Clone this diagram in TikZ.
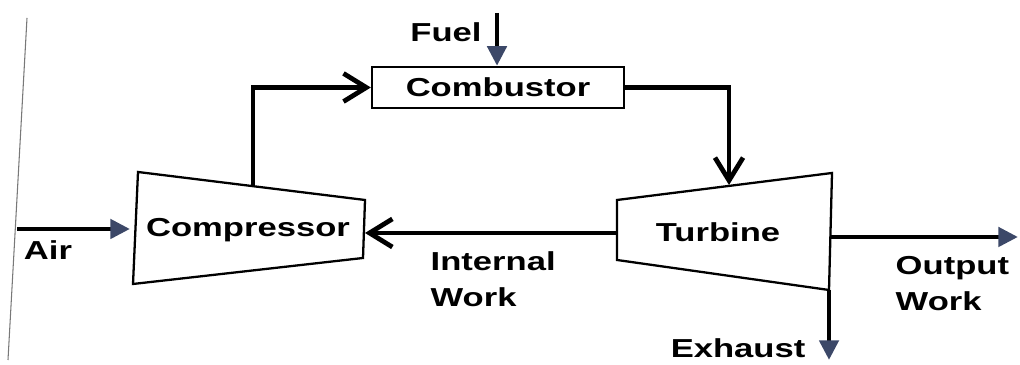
\documentclass[tikz,border=0pt]{standalone}
\usepackage{fontspec}
\setmainfont{Liberation Sans}[FakeStretch=1.33]
\usepackage{tikz}
\usetikzlibrary{arrows.meta}
\definecolor{tipblue}{RGB}{60, 72, 104}
\definecolor{scangray}{RGB}{120, 120, 120}

\tikzset{
  flow/.style={line width=1.35pt},
  unit/.style={draw, line width=0.65pt},
  lbl/.style={font=\fontsize{7.4}{8.6}\selectfont\bfseries, inner sep=0pt},
  filltip/.style={-{Triangle[length=5.6pt, width=5.4pt, fill=tipblue, color=tipblue]}},
  opentip/.style={-{Straight Barb[length=6.5pt, width=8pt]}}
}

\begin{document}
\begin{tikzpicture}

  \useasboundingbox (0, 0) rectangle (10.2, 3.65);

  % Page edge from the scan
  \draw[scangray, line width=0.3pt] (0.27, 3.47) -- (0.08, 0.05);

  % Compressor
  \draw[unit] (1.38, 1.93) -- (3.65, 1.65) -- (3.63, 1.07) -- (1.33, 0.81) -- cycle;
  \node[lbl] (comp) at (2.48, 1.35) {Compressor};
  \coordinate (comp-in) at (1.30, 1.36);
  \coordinate (comp-top) at (2.53, 1.79);
  \coordinate (comp-right) at (3.65, 1.32);

  % Combustor
  \node[unit, minimum width=2.52cm, minimum height=0.41cm, inner sep=0pt] (comb) at (4.98, 2.775) {};
  \node[lbl] (comb-lbl) at (4.98, 2.78) {Combustor};

  % Turbine
  \draw[unit] (6.17, 1.65) -- (8.32, 1.92) -- (8.29, 0.75) -- (6.17, 1.05) -- cycle;
  \node[lbl] (turb) at (7.18, 1.33) {Turbine};
  \coordinate (turb-top) at (7.29, 1.80);
  \coordinate (turb-left) at (6.17, 1.32);
  \coordinate (turb-right) at (8.31, 1.28);
  \coordinate (turb-low) at (8.29, 0.75);

  % Free ends
  \coordinate (air-start) at (0.17, 1.36);
  \coordinate (fuel-start) at (4.97, 3.52);
  \coordinate (out-end) at (10.18, 1.28);
  \coordinate (exh-end) at (8.29, 0.05);

  % Air in
  \draw[flow, filltip] (air-start) -- (comp-in);
  \node[lbl] (air) at (0.48, 1.15) {Air};

  % Fuel in
  \draw[flow, filltip] (fuel-start) -- (comb.north -| fuel-start);
  \node[lbl] (fuel) at (4.46, 3.33) {Fuel};

  % Compressor to combustor
  \draw[flow, opentip] (comp-top) |- (comb.west);

  % Combustor to turbine
  \draw[flow, opentip] (comb.east) -| (turb-top);

  % Internal work
  \draw[flow, opentip] (turb-left) -- (comp-right);
  \node[lbl, align=left, anchor=north west] (intw) at (4.30, 1.14) {Internal\\[1.5pt]Work};

  % Output work
  \draw[flow, filltip] (turb-right) -- (out-end);
  \node[lbl, align=left, anchor=north west] (outw) at (8.95, 1.09) {Output\\[1.5pt]Work};

  % Exhaust
  \draw[flow, filltip] (turb-low) -- (exh-end);
  \node[lbl, anchor=east] (exh) at (8.06, 0.17) {Exhaust};

\end{tikzpicture}
\end{document}
